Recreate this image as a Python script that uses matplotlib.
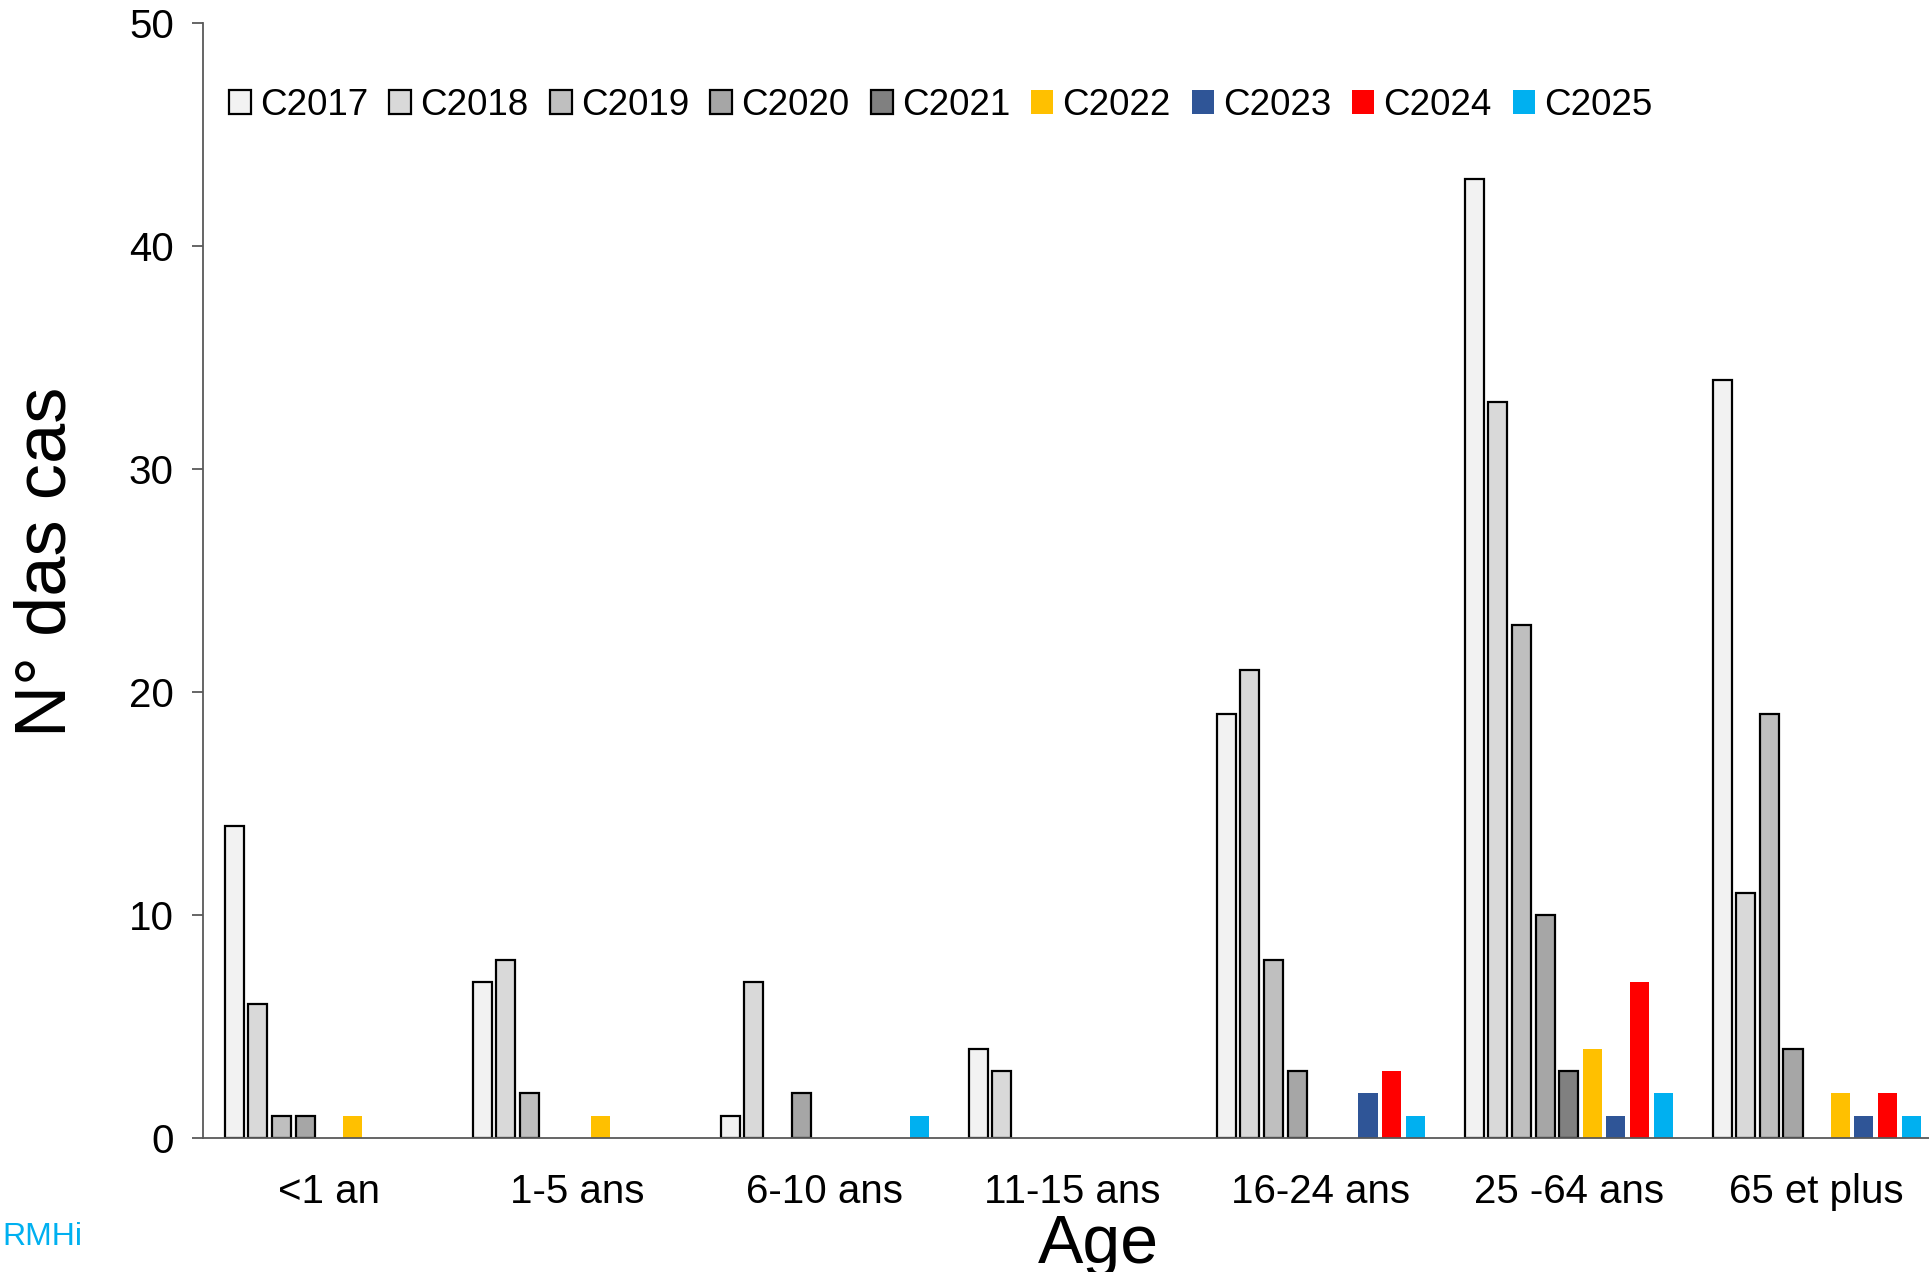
import numpy as np
import matplotlib.pyplot as plt

plt.rcParams['font.family'] = ['Liberation Sans', 'DejaVu Sans']

# Age groups and yearly case counts
categories = ["<1 an", "1-5 ans", "6-10 ans", "11-15 ans", "16-24 ans", "25 -64 ans", "65 et plus"]
series_names = ["C2017", "C2018", "C2019", "C2020", "C2021", "C2022", "C2023", "C2024", "C2025"]
c2017 = [14, 7, 1, 4, 19, 43, 34]
c2018 = [6, 8, 7, 3, 21, 33, 11]
c2019 = [1, 2, 0, 0, 8, 23, 19]
c2020 = [1, 0, 2, 0, 3, 10, 4]
c2021 = [0, 0, 0, 0, 0, 3, 0]
c2022 = [1, 1, 0, 0, 0, 4, 2]
c2023 = [0, 0, 0, 0, 2, 1, 1]
c2024 = [0, 0, 0, 0, 3, 7, 2]
c2025 = [0, 0, 1, 0, 1, 2, 1]
values = [c2017, c2018, c2019, c2020, c2021, c2022, c2023, c2024, c2025]

colors = ["#F2F2F2", "#D9D9D9", "#BFBFBF", "#A6A6A6", "#808080",
          "#FFC000", "#2F5597", "#FF0000", "#00B0F0"]
outlined = [True, True, True, True, True, False, False, False, False]

fig = plt.figure(figsize=(19.29, 12.72), dpi=100)
ax = fig.add_axes([0.1052, 0.1054, 0.8948, 0.8764])

x = np.arange(len(categories))
slot = 0.0953
width = 0.077
for i, (name, vals) in enumerate(zip(series_names, values)):
    # empty counts are left out so no outline shows on the baseline
    vals = np.array(vals, dtype=float)
    vals[vals == 0] = np.nan
    pos = x + (i - 4) * slot
    if outlined[i]:
        ax.bar(pos, vals, width, color=colors[i], edgecolor="black", linewidth=1.6, label=name)
    else:
        ax.bar(pos, vals, width, color=colors[i], edgecolor="none", label=name)

ax.set_xlim(-0.5075, 6.453)
ax.set_ylim(0, 50)
ax.set_yticks(range(0, 51, 10))
ax.set_xticks(x)
ax.set_xticklabels(categories, fontsize=29)
ax.tick_params(axis="x", length=0, pad=25)
ax.tick_params(axis="y", labelsize=29, length=8, width=1.3, color="#595959", pad=13)

for side in ["top", "right"]:
    ax.spines[side].set_visible(False)
for side in ["left", "bottom"]:
    ax.spines[side].set_color("#595959")
    ax.spines[side].set_linewidth(1.3)

ax.set_ylabel("N° das cas", fontsize=52)
ax.yaxis.set_label_coords(-0.071, 0.517)
ax.set_xlabel("Age", fontsize=49)
ax.xaxis.set_label_coords(0.519, -0.067)

leg = ax.legend(loc="upper left", bbox_to_anchor=(0.0, 0.965), ncol=9, frameon=False,
                fontsize=26.5, handlelength=0.6, handleheight=0.6, handletextpad=0.25,
                columnspacing=0.57, borderaxespad=0.3)

fig.text(0.001, 0.021, "RMHi", color="#00B0F0", fontsize=23)

fig.savefig("out.png", dpi=100)
